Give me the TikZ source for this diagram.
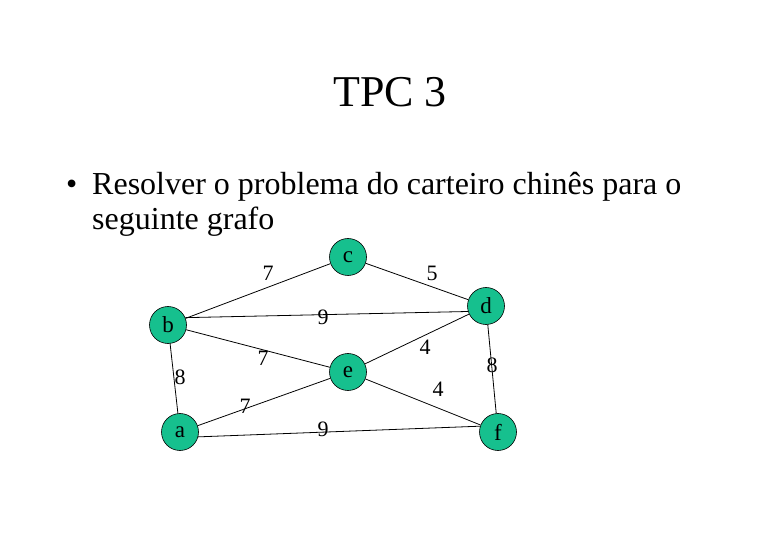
\documentclass[tikz,border=0pt]{standalone}
\usepackage{fontspec}
\setmainfont{Liberation Serif}
\definecolor{nodefill}{RGB}{22,192,142}
\begin{document}
\begin{tikzpicture}[x=1pt,y=-1pt,
  vtx/.style={circle,draw=black,line width=0.6pt,fill=nodefill,minimum size=37pt,inner sep=0pt,font=\fontsize{23}{26}\selectfont},
  edge/.style={draw=black,line width=0.8pt},
  wlabel/.style={inner sep=0pt,font=\fontsize{22}{25}\selectfont}]
\useasboundingbox (0,0) rectangle (780,540);
\node[anchor=base,font=\fontsize{44}{50}\selectfont] (title) at (390,107) {TPC 3};
\node[anchor=base west,inner sep=0pt,font=\fontsize{32}{36}\selectfont] (bullet) at (66,195) {•};
\node[anchor=base west,inner sep=0pt,font=\fontsize{32}{36}\selectfont] (line1) at (92,195) {Resolver o problema do carteiro chinês para o};
\node[anchor=base west,inner sep=0pt,font=\fontsize{32}{36}\selectfont] (line2) at (92,230) {seguinte grafo};
\node[vtx] (c) at (348,257) {c};
\node[vtx] (d) at (486,306) {d};
\node[vtx] (b) at (168,325) {b};
\node[vtx] (e) at (348,372) {e};
\node[vtx] (a) at (180,432) {a};
\node[vtx] (f) at (498,432) {f};
\draw[edge] (b) -- (c);
\draw[edge] (c) -- (d);
\draw[edge] (b.23) -- (d.197);
\draw[edge] (b) -- (e);
\draw[edge] (b) -- (a);
\draw[edge] (a) -- (e);
\draw[edge] (a.-15) -- (f.162);
\draw[edge] (e) -- (d);
\draw[edge] (e) -- (f);
\draw[edge] (d) -- (f);
\node[wlabel] (l1) at (268,273) {7};
\node[wlabel] (l2) at (432,273) {5};
\node[wlabel] (l3) at (323,317) {9};
\node[wlabel] (l4) at (263,358) {7};
\node[wlabel] (l5) at (180,377) {8};
\node[wlabel] (l6) at (425,347) {4};
\node[wlabel] (l7) at (492,365) {8};
\node[wlabel] (l8) at (438,389) {4};
\node[wlabel] (l9) at (245,406) {7};
\node[wlabel] (l10) at (323,429) {9};
\end{tikzpicture}
\end{document}
